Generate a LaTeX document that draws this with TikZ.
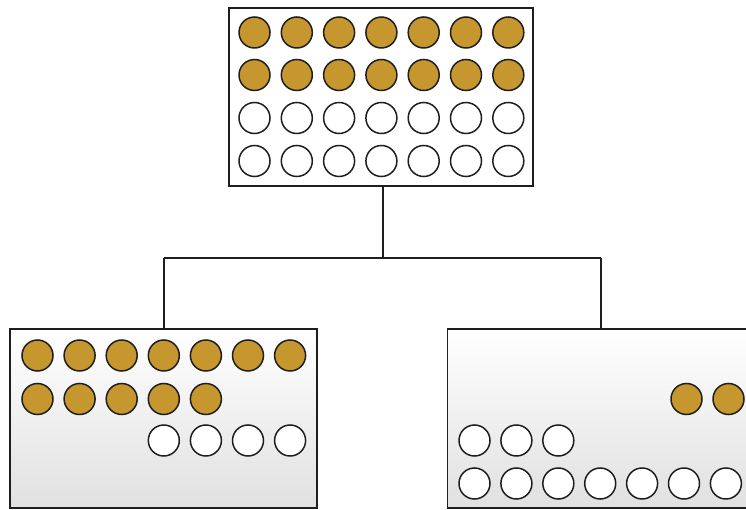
\documentclass[tikz,border=0pt]{standalone}
\usepackage{tikz}
\definecolor{gold}{RGB}{198,151,46}
\definecolor{ink}{RGB}{30,30,30}
\begin{document}
\begin{tikzpicture}[x=1pt,y=-1pt,
  boxstyle/.style={draw=ink,line width=1.5pt,rectangle,inner sep=0pt},
  lowbox/.style={boxstyle,top color=white,bottom color=black!12},
  ball/.style={circle,draw=ink,line width=1.5pt,minimum size=31pt,inner sep=0pt},
  full/.style={ball,fill=gold},
  empty/.style={ball,fill=white},
  link/.style={draw=ink,line width=1.5pt}]
\useasboundingbox (0,0) rectangle (746,510);
\fill[white] (0,0) rectangle (746,510);
% boxes
\node[boxstyle,fill=white,minimum width=304pt,minimum height=178pt] (top) at (381,97) {};
\node[lowbox,minimum width=307pt,minimum height=179pt] (left) at (163.5,418.5) {};
\node[lowbox,minimum width=320pt,minimum height=179pt] (right) at (607.5,418.5) {};
% connectors
\coordinate (j) at (383,258);
\coordinate (jl) at (164,258);
\coordinate (jr) at (601,258);
\draw[link] (j |- top.south) -- (j);
\draw[link] (jl) -- (jr);
\draw[link] (jl) -- (jl |- left.north);
\draw[link] (jr) -- (jr |- right.north);
% top box balls
\foreach \c in {0,...,6}{
  \node[full] (ta\c) at (254.5+42.3*\c,32.5) {};
  \node[full] (tb\c) at (254.5+42.3*\c,75) {};
  \node[empty] (tc\c) at (254.5+42.3*\c,118) {};
  \node[empty] (td\c) at (254.5+42.3*\c,161) {};
}
% left box balls
\foreach \c in {0,...,6}{
  \node[full] (la\c) at (37.5+42.1*\c,355.5) {};
}
\foreach \c in {0,...,4}{
  \node[full] (lb\c) at (37.5+42.1*\c,399) {};
}
\foreach \c in {3,...,6}{
  \node[empty] (lc\c) at (37.5+42.1*\c,440.5) {};
}
% right box balls
\node[full] (ra0) at (686.5,399) {};
\node[full] (ra1) at (728.5,399) {};
\foreach \c in {0,...,2}{
  \node[empty] (rb\c) at (474.5+41.9*\c,440.5) {};
}
\foreach \c in {0,...,6}{
  \node[empty] (rc\c) at (474.5+41.9*\c,483.5) {};
}
\end{tikzpicture}
\end{document}
